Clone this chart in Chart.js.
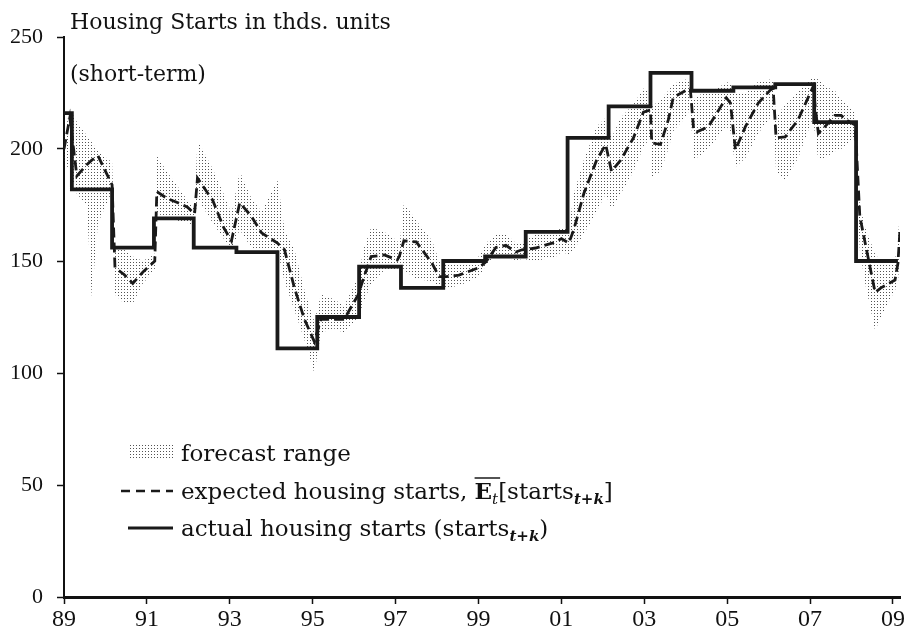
<!DOCTYPE html>
<html>
<head>
<meta charset="utf-8">
<script src="https://cdn.jsdelivr.net/npm/chart.js@4.4.1/dist/chart.umd.min.js"></script>
<style>
  html, body { margin: 0; padding: 0; background: #fff; }
  canvas { display: block; }
</style>
</head>
<body>
<canvas id="chart" width="909" height="638"></canvas>
<script>
// Survey dates (decimal years) for the short-term housing starts forecasts
const forecastDates = [
  1989.00, 1989.14, 1989.31, 1989.55, 1989.67, 1989.82, 1990.16, 1990.23, 1990.45, 1990.66,
  1990.90, 1991.19, 1991.24, 1991.48, 1991.75, 1991.98, 1992.15, 1992.22, 1992.59, 1992.85,
  1993.04, 1993.24, 1993.52, 1993.77, 1994.15, 1994.32, 1994.56, 1994.80, 1995.04, 1995.20,
  1995.50, 1995.76, 1996.10, 1996.24, 1996.41, 1996.73, 1997.04, 1997.09, 1997.20, 1997.50,
  1997.88, 1998.05, 1998.22, 1998.53, 1999.01, 1999.18, 1999.42, 1999.66, 1999.90, 2000.05,
  2000.38, 2000.87, 2001.00, 2001.18, 2001.30, 2001.54, 2001.85, 2002.07, 2002.21, 2002.43,
  2002.74, 2002.98, 2003.15, 2003.18, 2003.39, 2003.58, 2003.70, 2003.99, 2004.11, 2004.19,
  2004.26, 2004.55, 2004.84, 2004.98, 2005.08, 2005.20, 2005.44, 2005.75, 2006.04, 2006.11,
  2006.18, 2006.40, 2006.71, 2007.07, 2007.20, 2007.36, 2007.60, 2007.75, 2007.87, 2008.09,
  2008.20, 2008.33, 2008.57, 2008.71, 2009.05, 2009.12, 2009.17
];

// Mean expected housing starts (thds. units)
const expectedStarts = [
  200, 214, 188, 193, 195, 197, 184, 147, 144, 140,
  145, 150, 181, 178, 176, 174, 171, 187, 177, 165,
  159, 176, 170, 162.5, 158, 155, 138, 124, 114, 124,
  124, 124, 135, 143, 152, 152.7, 150.4, 152, 159, 158.5,
  149, 143, 143, 143.7, 147, 149.6, 156, 157, 154, 155,
  155.8, 158.5, 160, 158, 164, 180, 195, 202, 190, 195,
  205, 216.5, 217.4, 202.7, 202, 213, 223, 226, 227, 209,
  207.6, 210, 218.7, 222.8, 220.5, 199.6, 210, 220.5, 226.3, 227,
  205, 205.4, 213, 227.7, 207, 210, 215, 215, 213, 210.7,
  170, 158, 136, 138, 141.5, 149, 164
];

// Highest individual forecast
const forecastHigh = [
  205, 218, 212, 206, 203, 199, 194, 156, 155, 152,
  150, 153, 197, 190, 183, 177, 174, 204, 191, 180,
  171, 190, 178, 172, 186, 164, 155, 137, 123, 135,
  133, 130, 143, 156, 165, 163, 159, 156, 176, 168,
  159, 150, 149, 149, 152, 158, 161.6, 162, 158, 158,
  162, 163, 165, 164, 180, 195, 210, 214, 205, 214,
  220, 227, 225, 219, 222, 226, 229, 231, 230, 222,
  224, 225, 228, 230, 229, 225, 225, 230, 231, 230,
  214, 220, 226, 232, 231, 228, 226, 222, 220, 216,
  175, 165, 153, 150, 150, 160, 173
];

// Lowest individual forecast
const forecastLow = [
  195, 190, 180, 175, 134, 167, 181, 135, 131, 131,
  140, 146, 171, 170, 168, 167, 166, 178, 167, 160,
  155, 164, 156, 155, 155, 141, 128, 115, 100, 118,
  120, 118, 125, 132, 140, 146, 146, 150, 146, 142,
  141, 138, 138, 139, 143, 148, 152, 152, 150, 151,
  150, 152, 154, 153, 155, 162, 172, 180, 173, 180,
  190, 201, 205, 187.5, 190, 200, 208, 214, 218, 196,
  196, 200, 207, 210, 208, 192, 196, 207, 214, 218,
  190, 186, 196, 214, 195, 196, 199, 200, 202, 205,
  155, 140, 119, 125, 137, 140, 155
];

// Actual housing starts: dates at which each annual value takes effect
const actualDates = [
  1989.00, 1989.19, 1990.16, 1991.17, 1992.13, 1993.16, 1994.15, 1995.11, 1996.12, 1997.13,
  1998.15, 1999.16, 2000.14, 2001.15, 2002.14, 2003.15, 2004.14, 2005.15, 2006.16, 2007.10,
  2008.11, 2009.12
];
const actualStarts = [
  216, 182, 156, 169, 156, 154, 111, 125, 147.5, 138,
  150, 152, 163, 205, 219, 234, 226, 227.5, 229, 212,
  150, 150
];

// Axis ticks
const yearTicks = [1989, 1991, 1993, 1995, 1997, 1999, 2001, 2003, 2005, 2007, 2009];
const valueTicks = [0, 50, 100, 150, 200, 250];

const titleText = 'Housing Starts in thds. units';
const subtitleText = '(short-term)';

const toXY = (xs, ys) => xs.map((x, i) => ({ x: x, y: ys[i] }));

// Fine stipple used for the forecast range
function makeStipple() {
  const c = document.createElement('canvas');
  c.width = 3; c.height = 3;
  const g = c.getContext('2d');
  g.fillStyle = 'rgba(40,40,40,0.8)';
  g.fillRect(1, 1, 1, 1);
  return g.createPattern(c, 'repeat');
}
const stipple = makeStipple();

const SERIF = '"Liberation Serif", "DejaVu Serif", serif';
const TEXT = '"DejaVu Serif", "Liberation Serif", serif';

const annotations = {
  id: 'annotations',
  afterDraw(chart) {
    const ctx = chart.ctx;
    ctx.save();
    ctx.fillStyle = '#111';
    ctx.textBaseline = 'alphabetic';
    ctx.textAlign = 'left';

    // Title lines
    ctx.font = '22px ' + TEXT;
    ctx.fillText(titleText, 70, 29);
    ctx.fillText(subtitleText, 70, 81);

    // Legend
    const sx0 = 130, sx1 = 173, tx = 181;
    const big = '23px ' + TEXT;
    const sub = '15px ' + TEXT;

    // forecast range swatch
    ctx.fillStyle = stipple;
    ctx.fillRect(sx0, 445, sx1 - sx0, 14);
    ctx.fillStyle = '#111';
    ctx.font = big;
    ctx.fillText(chart.data.datasets[0].label, tx, 461);

    // expected (dashed) swatch
    ctx.strokeStyle = '#1a1a1a';
    ctx.lineWidth = 2.4;
    ctx.setLineDash([9, 6]);
    ctx.beginPath(); ctx.moveTo(121, 491); ctx.lineTo(sx1, 491); ctx.stroke();
    ctx.setLineDash([]);
    let x = tx;
    let base = 499;
    const put = (s, font, dy) => {
      ctx.font = font;
      ctx.fillText(s, x, base + (dy || 0));
      const w = ctx.measureText(s).width;
      x += w;
      return w;
    };
    put('expected housing starts, ', big);
    const ex = x;
    const ew = put('E', 'bold ' + big);
    ctx.lineWidth = 1.5;
    ctx.beginPath(); ctx.moveTo(ex, base - 21); ctx.lineTo(ex + ew + 8, base - 21); ctx.stroke();
    put('t', 'italic ' + sub, 5);
    put('[starts', big);
    put('t+k', 'bold italic ' + sub, 5);
    put(']', big);

    // actual (solid) swatch
    ctx.lineWidth = 3.2;
    ctx.beginPath(); ctx.moveTo(128, 528); ctx.lineTo(sx1, 528); ctx.stroke();
    x = tx;
    base = 536;
    put('actual housing starts (starts', big);
    put('t+k', 'bold italic ' + sub, 5);
    put(')', big);
    ctx.restore();
  }
};

new Chart(document.getElementById('chart'), {
  type: 'line',
  data: {
    datasets: [
      {
        label: 'forecast range',
        data: toXY(forecastDates, forecastHigh),
        borderWidth: 0,
        borderColor: 'rgba(0,0,0,0)',
        backgroundColor: stipple,
        fill: '+1',
        pointRadius: 0,
        tension: 0,
        order: 2
      },
      {
        label: 'forecast range (low)',
        data: toXY(forecastDates, forecastLow),
        borderWidth: 0,
        borderColor: 'rgba(0,0,0,0)',
        fill: false,
        pointRadius: 0,
        tension: 0,
        order: 3
      },
      {
        label: 'expected housing starts',
        data: toXY(forecastDates, expectedStarts),
        borderColor: '#1a1a1a',
        borderWidth: 2.8,
        borderDash: [10, 5],
        fill: false,
        pointRadius: 0,
        tension: 0,
        order: 1
      },
      {
        label: 'actual housing starts',
        data: toXY(actualDates, actualStarts),
        borderColor: '#1a1a1a',
        borderWidth: 3.8,
        stepped: 'before',
        fill: false,
        pointRadius: 0,
        order: 0
      }
    ]
  },
  options: {
    responsive: false,
    animation: false,
    layout: { padding: { top: 37, right: 9, left: 0, bottom: 0 } },
    plugins: { legend: { display: false }, tooltip: { enabled: false } },
    scales: {
      x: {
        type: 'linear',
        min: 1989,
        max: 2009.17,
        afterBuildTicks(scale) { scale.ticks = yearTicks.map(v => ({ value: v })); },
        afterFit(scale) { scale.height = 41; },
        ticks: {
          autoSkip: false,
          maxRotation: 0,
          padding: 1,
          color: '#111',
          font: { family: SERIF, size: 24 },
          callback: v => String(Math.round(v) % 100).padStart(2, '0')
        },
        grid: { drawOnChartArea: false, drawTicks: true, tickLength: 7, tickColor: '#111', tickWidth: 1.5 },
        border: { display: true, color: '#111', width: 3 }
      },
      y: {
        type: 'linear',
        min: 0,
        max: 250,
        afterBuildTicks(scale) { scale.ticks = valueTicks.map(v => ({ value: v })); },
        afterFit(scale) { scale.width = 64; },
        ticks: {
          padding: 14,
          color: '#111',
          font: { family: SERIF, size: 22 }
        },
        grid: { drawOnChartArea: false, drawTicks: true, tickLength: 7, tickColor: '#111', tickWidth: 1.5 },
        border: { display: true, color: '#111', width: 2 }
      }
    }
  },
  plugins: [annotations]
});
</script>
</body>
</html>
